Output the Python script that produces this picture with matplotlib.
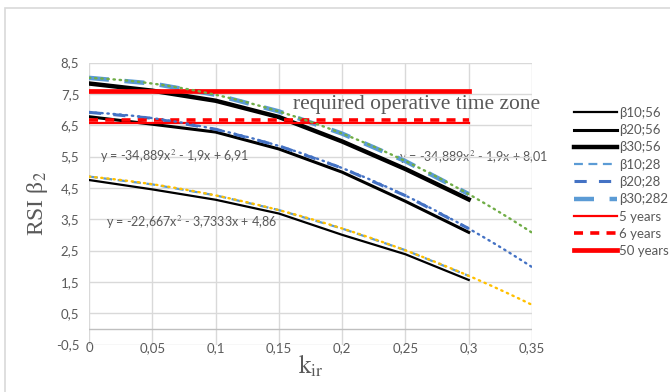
import numpy as np
import matplotlib
matplotlib.use('Agg')
import matplotlib.pyplot as plt
from matplotlib.patches import Rectangle

plt.rcParams['mathtext.fontset'] = 'stix'

# data
k_ir = [0, 0.05, 0.1, 0.15, 0.2, 0.25, 0.3]
b10_56 = [4.75, 4.45, 4.12, 3.68, 3.0, 2.38, 1.56]
b20_56 = [6.77, 6.53, 6.28, 5.74, 5.0, 4.07, 3.08]
b30_56 = [7.83, 7.6, 7.28, 6.76, 5.98, 5.1, 4.13]
b10_28 = [4.86, 4.61, 4.26, 3.79, 3.2, 2.51, 1.69]
b20_28 = [6.91, 6.72, 6.37, 5.84, 5.13, 4.25, 3.2]
b30_28 = [8.01, 7.83, 7.47, 6.94, 6.23, 5.35, 4.3]

years_x = [0, 0.3]
years_5 = 6.57
years_6 = 6.66
years_50 = 7.6

trend_x = np.linspace(0, 0.35, 60)
eq_labels = ['y = -22,667x$^2$ - 3,7333x + 4,86',
             'y = -34,889x$^2$ - 1,9x + 6,91',
             'y = -34,889x$^2$ - 1,9x + 8,01']

grey = '#595959'

fig = plt.figure(figsize=(6.7, 3.92), dpi=100)
ax = fig.add_axes([89/670, 1 - 344.5/392, (532-89)/670, (344.5-62.5)/392])

# chart border
fig.patches.append(Rectangle((5/670, -0.1), 1.2, 1 - 8/392 + 0.1, transform=fig.transFigure,
                             fill=False, edgecolor='#d9d9d9', lw=1.2))

l1, = ax.plot(k_ir, b10_56, color='black', lw=1.6, label='β10;56', zorder=3)
l2, = ax.plot(k_ir, b20_56, color='black', lw=2.2, label='β20;56', zorder=3)
l3, = ax.plot(k_ir, b30_56, color='black', lw=3.2, label='β30;56', zorder=3)
l4, = ax.plot(k_ir, b10_28, color='#5B9BD5', lw=1.6, ls=(0, (4, 2.5)), label='β10;28', zorder=4)
l5, = ax.plot(k_ir, b20_28, color='#4472C4', lw=2.2, ls=(0, (4, 4)), label='β20;28', zorder=4)
l6, = ax.plot(k_ir, b30_28, color='#5B9BD5', lw=3.2, ls=(0, (4.5, 3.5)), label='β30;282', zorder=4)
l7, = ax.plot(years_x, [years_5, years_5], color='#FF0000', lw=1.6, label='5 years', zorder=5)
l8, = ax.plot(years_x, [years_6, years_6], color='#FF0000', lw=2.6, ls=(0, (2.5, 2)), label='6 years', zorder=5)
l9, = ax.plot(years_x, [years_50, years_50], color='#FF0000', lw=3.4, label='50 years', zorder=5)

# polynomial trendlines of the 28-series
for series, col in zip([b10_28, b20_28, b30_28], ['#FFC000', '#4472C4', '#70AD47']):
    coef = np.polyfit(k_ir, series, 2)
    ax.plot(trend_x, np.polyval(coef, trend_x), color=col, lw=1.7,
            ls=(0, (0.6, 2.0)), dash_capstyle='round', zorder=6)

ax.text(0.009, 5.5, eq_labels[1], color=grey, fontsize=9, va='center', family='Lato')
ax.text(0.0135, 3.4, eq_labels[0], color=grey, fontsize=9, va='center', family='Lato')
ax.text(0.245, 5.47, eq_labels[2], color=grey, fontsize=9, va='center', family='Lato',
        clip_on=False, zorder=0)
ax.text(0.161, 7.17, 'required operative time zone', color=grey, fontsize=15.5,
        family='Liberation Serif', va='center', clip_on=False)

ax.set_xlim(0, 0.35)
ax.set_ylim(-0.5, 8.5)
ax.set_xticks(np.arange(0, 0.351, 0.05))
ax.set_xticklabels(['0', '0,05', '0,1', '0,15', '0,2', '0,25', '0,3', '0,35'])
ax.set_yticks(np.arange(-0.5, 8.6, 1))
ax.set_yticklabels([f'{v:.1f}'.replace('.', ',') for v in np.arange(-0.5, 8.6, 1)])
ax.tick_params(length=0, colors=grey, labelsize=9.5)
ax.tick_params(axis='x', pad=-2)
ax.tick_params(axis='y', pad=7)
for lab in ax.get_xticklabels() + ax.get_yticklabels():
    lab.set_family('Lato')
ax.grid(color='#d9d9d9', lw=1)
ax.set_axisbelow(True)
for s in ax.spines.values():
    s.set_visible(False)
ax.axhline(0, color='#bfbfbf', lw=1, zorder=1)

ax.set_xlabel(r'$\mathrm{k}_{\mathrm{ir}}$', fontsize=18, color=grey, labelpad=-1)
ax.set_ylabel('RSI β$_2$', fontsize=17, color=grey, labelpad=4, family='Liberation Serif')

leg = fig.legend(handles=[l1, l2, l3, l4, l5, l6, l7, l8, l9], loc='upper left',
                 bbox_to_anchor=(562/670, 1 - 95/392), frameon=False,
                 labelspacing=0.4, handlelength=3.3, handletextpad=0.15, labelcolor=grey,
                 prop={'family': 'Lato', 'size': 9.5})

fig.savefig('out.png', dpi=100)
